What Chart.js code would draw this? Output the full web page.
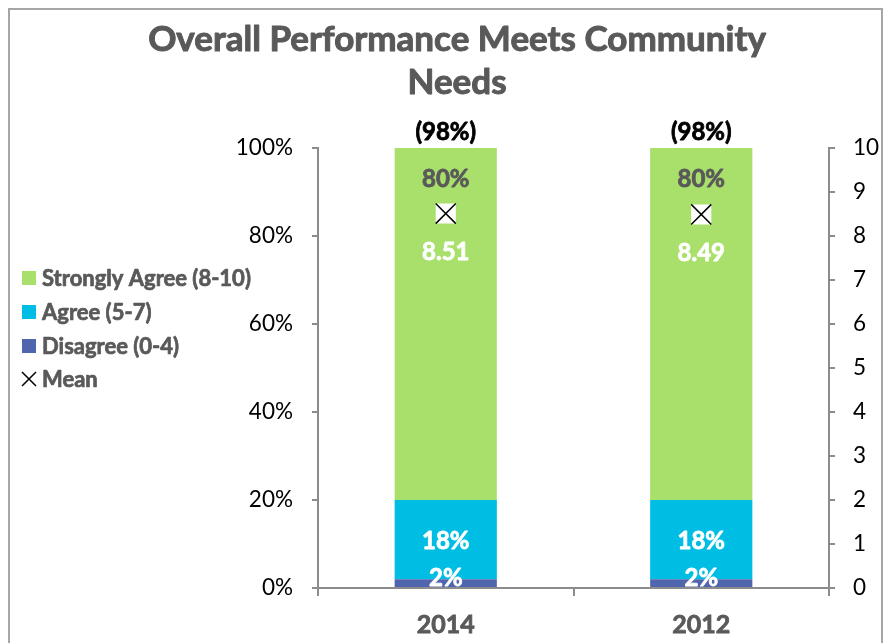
<!DOCTYPE html>
<html><head><meta charset="utf-8">
<script src="https://cdn.jsdelivr.net/npm/chart.js@4/dist/chart.umd.min.js"></script>
<style>html,body{margin:0;padding:0;background:#fff;}#wrap{width:889px;height:643px;position:relative;}</style>
</head><body><div id="wrap"><canvas id="c" width="889" height="643"></canvas></div>
<script>
const categories = ['2014', '2012'];
const disagree = [2, 2];
const agree = [18, 18];
const stronglyAgree = [80, 80];
const meanScore = [8.51, 8.49];
const percentTicks = [0, 20, 40, 60, 80, 100];
const titleLines = ['Overall Performance Meets Community', 'Needs'];
const seriesNames = ['Strongly Agree (8-10)', 'Agree (5-7)', 'Disagree (0-4)', 'Mean'];

const C_STRONG = '#A9E06C', C_AGREE = '#00BDE4', C_DIS = '#4F65AD';
const FONT = 'Lato, "Open Sans", sans-serif';
const GRAY = '#595959';
const AXIS = '#8C8C8C';

function boldText(ctx, txt, x, y, color, sw) {
  ctx.fillStyle = color;
  ctx.strokeStyle = color;
  ctx.lineWidth = sw;
  ctx.lineJoin = 'round';
  ctx.strokeText(txt, x, y);
  ctx.fillText(txt, x, y);
}

const overlay = {
  id: 'overlay',
  beforeDraw(chart) {
    const ctx = chart.ctx;
    ctx.save();
    ctx.fillStyle = '#fff';
    ctx.fillRect(0, 0, chart.width, chart.height);
    ctx.restore();
  },
  afterDatasetsDraw(chart) {
    const ctx = chart.ctx;
    ctx.save();
    ctx.textAlign = 'center';
    ctx.textBaseline = 'middle';
    const mDis = chart.getDatasetMeta(0), mAg = chart.getDatasetMeta(1), mSt = chart.getDatasetMeta(2), mMean = chart.getDatasetMeta(4);
    categories.forEach((c, j) => {
      const st = mSt.data[j], ag = mAg.data[j], di = mDis.data[j], mn = mMean.data[j];
      ctx.font = 'bold 24px ' + FONT;
      boldText(ctx, '(' + (agree[j] + stronglyAgree[j]) + '%)', st.x, st.y - 16, '#000', 0.8);
      boldText(ctx, stronglyAgree[j] + '%', st.x, st.y + 31, GRAY, 0.8);
      boldText(ctx, meanScore[j].toFixed(2), mn.x, mn.y + 39, '#fff', 0.8);
      boldText(ctx, agree[j] + '%', ag.x, (ag.y + ag.base) / 2 + 2, '#fff', 0.8);
      boldText(ctx, disagree[j] + '%', di.x, (di.y + di.base) / 2 - 5, '#fff', 0.8);
    });
    ctx.restore();
  },
  afterDraw(chart) {
    const ctx = chart.ctx;
    ctx.save();
    // border
    ctx.strokeStyle = '#A6A6A6';
    ctx.lineWidth = 2;
    ctx.strokeRect(9, 9, 873, 700);
    // title
    ctx.font = 'bold 35px ' + FONT;
    ctx.textAlign = 'center';
    ctx.textBaseline = 'middle';
    boldText(ctx, titleLines[0], 457, 40, GRAY, 1);
    boldText(ctx, titleLines[1], 457, 83, GRAY, 1);
    // legend
    const rows = [278, 312, 346, 379];
    const cols = [C_STRONG, C_AGREE, C_DIS];
    ctx.textAlign = 'left';
    ctx.font = 'bold 22px ' + FONT;
    seriesNames.forEach((n, i) => {
      const y = rows[i];
      if (i < 3) {
        ctx.fillStyle = cols[i];
        ctx.fillRect(22, y - 7, 14, 14);
      } else {
        ctx.strokeStyle = '#000';
        ctx.lineWidth = 1.5;
        ctx.beginPath();
        ctx.moveTo(22, y - 7); ctx.lineTo(36, y + 7);
        ctx.moveTo(36, y - 7); ctx.lineTo(22, y + 7);
        ctx.stroke();
      }
      boldText(ctx, n, 42, y + 1, GRAY, 0.7);
    });
    ctx.restore();
  }
};

new Chart(document.getElementById('c'), {
  type: 'bar',
  data: {
    labels: categories,
    datasets: [
      { label: seriesNames[2], data: disagree, backgroundColor: C_DIS, stack: 's' },
      { label: seriesNames[1], data: agree, backgroundColor: C_AGREE, stack: 's' },
      { label: seriesNames[0], data: stronglyAgree, backgroundColor: C_STRONG, stack: 's' },
      { type: 'line', label: 'meanBg', data: meanScore, yAxisID: 'y2', showLine: false, order: -1,
        pointStyle: 'rect', pointRadius: 14.2, pointBackgroundColor: '#fff', pointBorderWidth: 0, pointBorderColor: '#fff' },
      { type: 'line', label: seriesNames[3], data: meanScore, yAxisID: 'y2', showLine: false, order: -2,
        pointStyle: 'crossRot', pointRadius: 14.2, pointBorderColor: '#000', pointBorderWidth: 1.5, pointBackgroundColor: '#000' }
    ]
  },
  options: {
    responsive: false,
    animation: false,
    layout: { padding: { top: 148, left: 0, right: 0, bottom: 0 } },
    datasets: { bar: { barPercentage: 0.4, categoryPercentage: 1 } },
    plugins: { legend: { display: false }, tooltip: { enabled: false }, title: { display: false } },
    scales: {
      x: {
        stacked: true,
        grid: { display: true, drawOnChartArea: false, offset: true, tickLength: 8, color: AXIS, lineWidth: 2 },
        border: { color: AXIS, width: 2 },
        ticks: { font: { family: FONT, size: 25, weight: 'bold' }, color: GRAY, padding: 14, textStrokeColor: GRAY, textStrokeWidth: 0.8 },
        afterFit(s) { s.height = 55; }
      },
      y: {
        stacked: true, min: 0, max: 100,
        afterBuildTicks(s) { s.ticks = percentTicks.map(v => ({ value: v })); },
        ticks: { callback: v => v + '%', font: { family: FONT, size: 22.5 }, color: '#000', padding: 19 },
        grid: { display: true, drawOnChartArea: false, tickLength: 6, color: AXIS, lineWidth: 2 },
        border: { color: AXIS, width: 2 },
        afterFit(s) { s.width = 318; }
      },
      y2: {
        position: 'right', min: 0, max: 10,
        ticks: { stepSize: 1, font: { family: FONT, size: 22.5 }, color: '#000', padding: 18 },
        grid: { display: true, drawOnChartArea: false, tickLength: 6, color: AXIS, lineWidth: 2 },
        border: { color: AXIS, width: 2 },
        afterFit(s) { s.width = 60; }
      }
    }
  },
  plugins: [overlay]
});
</script></body></html>
